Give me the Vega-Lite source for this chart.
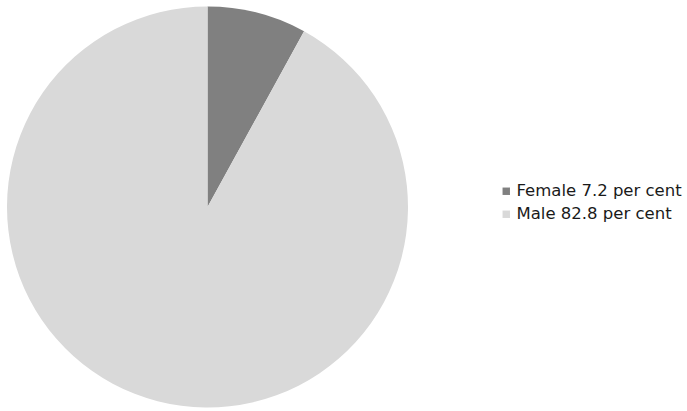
{
  "$schema": "https://vega.github.io/schema/vega-lite/v6.json",
  "autosize": "none",
  "width": 415,
  "height": 408,
  "padding": {"top": 3, "left": 0, "right": 272, "bottom": 0},
  "background": "white",
  "data": {"values": [
    {"label": "Female 7.2 per cent", "value": 7.2, "rank": 1},
    {"label": "Male 82.8 per cent", "value": 82.8, "rank": 2}
  ]},
  "mark": {"type": "arc", "outerRadius": 200.5},
  "encoding": {
    "theta": {"field": "value", "type": "quantitative", "stack": true},
    "order": {"field": "rank", "type": "quantitative"},
    "color": {
      "field": "label", "type": "nominal",
      "scale": {"domain": ["Female 7.2 per cent", "Male 82.8 per cent"], "range": ["#808080", "#d9d9d9"]},
      "legend": {
        "title": null, "orient": "none", "legendX": 498, "legendY": 180,
        "symbolType": "square", "symbolSize": 55, "symbolStrokeWidth": 0,
        "labelFont": "DejaVu Sans", "labelFontSize": 16.5, "labelColor": "#1a1a1a",
        "rowPadding": 6, "labelOffset": 2, "labelLimit": 300
      }
    }
  },
  "config": {"view": {"stroke": null}}
}
